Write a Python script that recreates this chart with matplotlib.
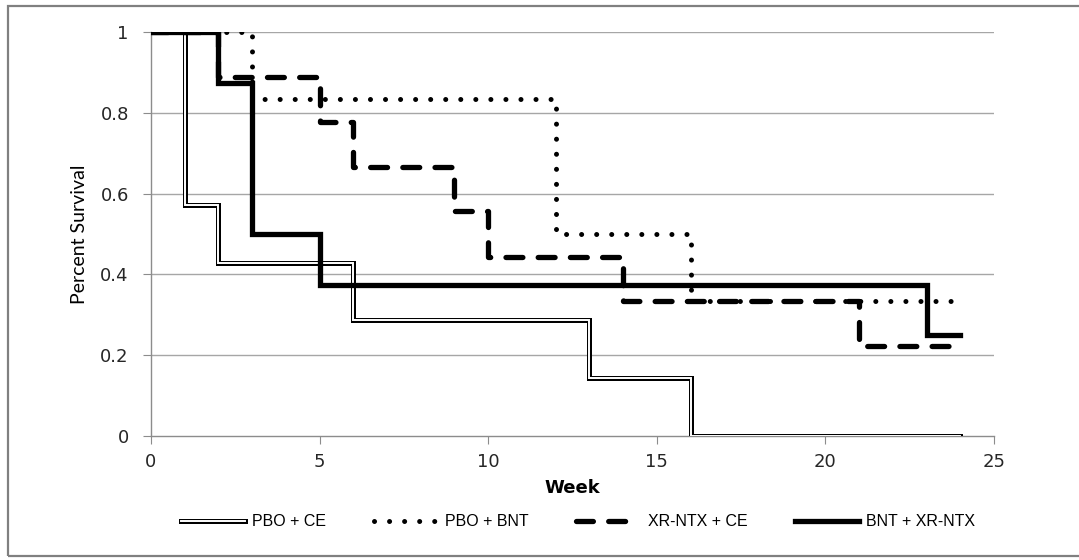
import matplotlib
matplotlib.use("Agg")
import matplotlib.pyplot as plt
from matplotlib.patches import Rectangle
from matplotlib.legend_handler import HandlerTuple

# Data (Kaplan-Meier step curves)
pbo_ce_weeks = [0, 1, 2, 6, 13, 16, 24]
pbo_ce_surv = [1.0, 0.571, 0.429, 0.286, 0.143, 0.0, 0.0]

pbo_bnt_weeks = [0, 3, 12, 16, 24]
pbo_bnt_surv = [1.0, 0.833, 0.5, 0.333, 0.333]

xr_ce_weeks = [0, 2, 5, 6, 9, 10, 14, 21, 24]
xr_ce_surv = [1.0, 0.889, 0.778, 0.667, 0.556, 0.444, 0.333, 0.222, 0.222]

bnt_xr_weeks = [0, 2, 3, 5, 23, 24]
bnt_xr_surv = [1.0, 0.875, 0.5, 0.375, 0.25, 0.25]

labels = ["PBO + CE", "PBO + BNT", "XR-NTX + CE", "BNT + XR-NTX"]
x_ticks = [0, 5, 10, 15, 20, 25]
y_ticks = [0, 0.2, 0.4, 0.6, 0.8, 1.0]
y_tick_labels = ["0", "0.2", "0.4", "0.6", "0.8", "1"]

fig = plt.figure(figsize=(10.79, 5.60), dpi=100)
ax = fig.add_axes([151/1079, 1-436/560, (994-151)/1079, (436-32)/560])

# figure border (right edge off-canvas, as in the reference)
fig.patches.append(Rectangle((8/1079, 4/560), (1090-8)/1079, (554-4)/560,
                             transform=fig.transFigure, fill=False,
                             edgecolor="#808080", linewidth=1.6))

# grid
for y in y_ticks[1:]:
    ax.axhline(y, color="#a6a6a6", lw=1.0, zorder=0)

# PBO + CE : double line
l1a, = ax.step(pbo_ce_weeks, pbo_ce_surv, where="post", color="black", lw=3.6,
               solid_joinstyle="miter", zorder=3)
l1b, = ax.step(pbo_ce_weeks, pbo_ce_surv, where="post", color="white", lw=1.4,
               solid_joinstyle="miter", zorder=3.1)

# PBO + BNT : dotted
l2, = ax.step(pbo_bnt_weeks, pbo_bnt_surv, where="post", color="black", lw=3.6,
              dashes=(0.01, 3.0), dash_capstyle="round", zorder=4)

# XR-NTX + CE : dashed
l3, = ax.step(xr_ce_weeks, xr_ce_surv, where="post", color="black", lw=3.8,
              dashes=(3.2, 2.9), dash_capstyle="round", zorder=4)

# BNT + XR-NTX : thick solid
l4, = ax.step(bnt_xr_weeks, bnt_xr_surv, where="post", color="black", lw=3.8,
              solid_joinstyle="miter", zorder=5)

ax.set_xlim(0, 25)
ax.set_ylim(0, 1)
ax.set_xticks(x_ticks)
ax.set_yticks(y_ticks)
ax.set_yticklabels(y_tick_labels)
ax.set_xticklabels([str(t) for t in x_ticks])

for s in ["top", "right"]:
    ax.spines[s].set_visible(False)
for s in ["left", "bottom"]:
    ax.spines[s].set_color("#8c8c8c")
    ax.spines[s].set_linewidth(1.0)
ax.tick_params(axis="both", direction="out", length=6, color="#8c8c8c",
               labelsize=13, labelcolor="#262626", pad=6)
ax.tick_params(axis="y", pad=10)
for lab in ax.get_xticklabels() + ax.get_yticklabels():
    lab.set_family("DejaVu Sans")

ax.set_ylabel("Percent Survival", fontsize=14,
              family=["Lato", "DejaVu Sans"], labelpad=9)
ax.set_xlabel("Week", fontsize=13, fontweight="bold",
              family=["DejaVu Sans"], labelpad=6)

leg = fig.legend([(l1a, l1b), l2, l3, l4], labels,
                 handler_map={tuple: HandlerTuple(ndivide=1)},
                 loc="center", bbox_to_anchor=(578/1079, 1-522/560),
                 ncol=4, frameon=False, handlelength=4.0, columnspacing=3.0,
                 handletextpad=0.45,
                 prop={"family": ["Liberation Sans", "DejaVu Sans"], "size": 11.5})

fig.savefig("out.png", dpi=100)
